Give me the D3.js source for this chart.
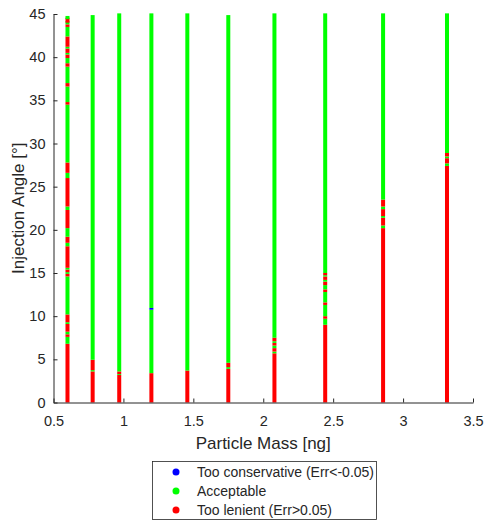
<!DOCTYPE html>
<html>
<head>
<meta charset="UTF-8" />
<script src="https://cdn.jsdelivr.net/npm/d3@7"></script>
<style>
  body { margin: 0; background: #fff; }
  text { font-family: "Liberation Sans", Arial, sans-serif; fill: #262626; }
</style>
</head>
<body>
<div id="app"></div>
<script>
// particle masses of each column [ng]
const masses = [0.6, 0.78, 0.97, 1.2, 1.457, 1.75, 2.08, 2.443, 2.857, 3.314];

// runs of injection angle per column: [from, to, class]  (b = conservative, g = acceptable, r = lenient)
const runs060 = [[0,6.8,"r"],[6.8,7.6,"g"],[7.6,7.9,"r"],[7.9,8.2,"g"],[8.2,9.1,"r"],[9.1,9.3,"g"],[9.3,10.2,"r"],
  [10.2,14.6,"g"],[14.6,14.9,"r"],[14.9,15.1,"g"],[15.1,15.4,"r"],[15.4,15.6,"g"],[15.6,18.1,"r"],[18.1,18.5,"g"],
  [18.5,19.2,"r"],[19.2,20.2,"g"],[20.2,22.3,"r"],[22.3,22.7,"g"],[22.7,26.0,"r"],[26.0,26.6,"g"],[26.6,27.8,"r"],
  [27.8,34.5,"g"],[34.5,34.8,"r"],[34.8,36.6,"g"],[36.6,37.0,"r"],[37.0,38.9,"g"],[38.9,39.3,"r"],[39.3,39.9,"g"],
  [39.9,40.3,"r"],[40.3,40.5,"g"],[40.5,41.0,"r"],[41.0,41.2,"g"],[41.2,42.4,"r"],[42.4,43.5,"g"],[43.5,43.8,"r"],
  [43.8,44.0,"g"],[44.0,44.4,"r"],[44.4,44.6,"g"]];
const runs078 = [[0,3.6,"r"],[3.6,3.75,"g"],[3.75,4.95,"r"],[4.95,44.7,"g"]];
const runs097 = [[0,3.2,"r"],[3.2,3.3,"g"],[3.3,3.6,"r"],[3.6,44.9,"g"]];
const runs120 = [[0,3.4,"r"],[3.4,10.75,"g"],[10.75,10.95,"b"],[10.95,44.9,"g"]];
const runs146 = [[0,3.7,"r"],[3.7,44.9,"g"]];
const runs175 = [[0,3.9,"r"],[3.9,4.1,"g"],[4.1,4.6,"r"],[4.6,44.7,"g"]];
const runs208 = [[0,5.7,"r"],[5.7,5.9,"g"],[5.9,6.3,"r"],[6.3,6.6,"g"],[6.6,6.9,"r"],[6.9,7.1,"g"],[7.1,7.5,"r"],[7.5,44.9,"g"]];
const runs244 = [[0,9.0,"r"],[9.0,9.7,"g"],[9.7,10.0,"r"],[10.0,11.3,"g"],[11.3,11.6,"r"],[11.6,12.8,"g"],[12.8,13.1,"r"],
  [13.1,13.6,"g"],[13.6,14.0,"r"],[14.0,14.2,"g"],[14.2,14.6,"r"],[14.6,14.75,"g"],[14.75,15.0,"r"],[15.0,44.9,"g"]];
const runs286 = [[0,20.2,"r"],[20.2,20.5,"g"],[20.5,21.4,"r"],[21.4,21.6,"g"],[21.6,22.4,"r"],[22.4,22.7,"g"],[22.7,23.5,"r"],[23.5,44.9,"g"]];
const runs331 = [[0,27.4,"r"],[27.4,27.7,"g"],[27.7,28.3,"r"],[28.3,28.5,"g"],[28.5,28.9,"r"],[28.9,44.9,"g"]];
const columnRuns = [runs060, runs078, runs097, runs120, runs146, runs175, runs208, runs244, runs286, runs331];

const xTicks = [0.5, 1, 1.5, 2, 2.5, 3, 3.5];
const yTicks = [0, 5, 10, 15, 20, 25, 30, 35, 40, 45];
const legendItems = [
  {key: "b", text: "Too conservative (Err<-0.05)"},
  {key: "g", text: "Acceptable"},
  {key: "r", text: "Too lenient (Err>0.05)"}
];
const colors = {b: "#0000ff", g: "#00ff00", r: "#ff0000"};

const w = 484, h = 523;
const svg = d3.select("#app").append("svg").attr("width", w).attr("height", h);

const xScale = d3.scaleLinear().domain([0.5, 3.5]).range([53.5, 473]);
const yScale = d3.scaleLinear().domain([0, 45]).range([402.5, 14]);

// columns of points
const data = [];
columnRuns.forEach((runs, i) => runs.forEach(r => data.push({m: masses[i], a0: r[0], a1: r[1], c: r[2]})));

svg.append("g").selectAll("rect")
  .data(data)
  .enter()
  .append("rect")
  .attr("x", d => xScale(d.m) - 2)
  .attr("width", 4)
  .attr("y", d => yScale(d.a1) - (d.a1 >= 44 ? 1.5 : 0))
  .attr("height", d => yScale(d.a0) - yScale(d.a1) + (d.a1 >= 44 ? 1.5 : 0))
  .attr("fill", d => colors[d.c]);

// axes (MATLAB style, ticks inside, no box)
const xAxis = d3.axisBottom(xScale).tickValues(xTicks).tickSizeInner(-4).tickSizeOuter(0).tickPadding(13).tickFormat(d3.format("~g"));
const yAxis = d3.axisLeft(yScale).tickValues(yTicks).tickSizeInner(-4).tickSizeOuter(0).tickPadding(8);

const gx = svg.append("g").attr("transform", "translate(0," + yScale(0) + ")").call(xAxis);
const gy = svg.append("g").attr("transform", "translate(" + xScale(0.5) + ",0)").call(yAxis);
[gx, gy].forEach(g => {
  g.select(".domain").attr("stroke", "#262626");
  g.selectAll(".tick line").attr("stroke", "#262626");
  g.selectAll(".tick text").style("font-size", "14.5px").attr("fill", "#262626");
});

svg.append("text")
  .attr("x", (xScale(0.5) + xScale(3.5)) / 2)
  .attr("y", 449)
  .attr("text-anchor", "middle")
  .style("font-size", "17px")
  .text("Particle Mass [ng]");

svg.append("text")
  .attr("transform", "translate(24," + (yScale(0) + yScale(45)) / 2 + ") rotate(-90)")
  .attr("text-anchor", "middle")
  .style("font-size", "17px")
  .text("Injection Angle [°]");

// legend
const legend = svg.append("g");
legend.append("rect")
  .attr("x", 152.5).attr("y", 461.5)
  .attr("width", 224).attr("height", 58)
  .attr("fill", "#fff").attr("stroke", "#262626").attr("stroke-width", 0.8);

legend.selectAll("circle")
  .data(legendItems)
  .enter()
  .append("circle")
  .attr("cx", 176)
  .attr("cy", (d, i) => 472 + i * 19)
  .attr("r", 3.5)
  .attr("fill", d => colors[d.key]);

legend.selectAll("text")
  .data(legendItems)
  .enter()
  .append("text")
  .attr("x", 197)
  .attr("y", (d, i) => 472 + i * 19)
  .attr("dy", "0.35em")
  .style("font-size", "14px")
  .attr("fill", "#000")
  .text(d => d.text);
</script>
</body>
</html>
